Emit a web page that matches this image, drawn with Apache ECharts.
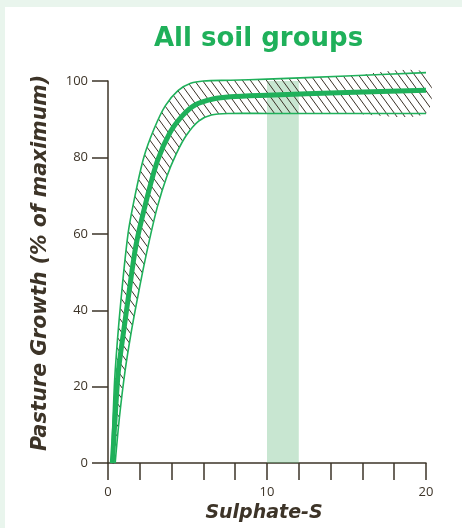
<!DOCTYPE html>
<html>
<head>
<meta charset="utf-8">
<script src="https://cdn.jsdelivr.net/npm/echarts@6/dist/echarts.min.js"></script>
<style>
html,body{margin:0;padding:0;background:#ffffff;}
#c{width:462px;height:528px;}
</style>
</head>
<body>
<div id="c"></div>
<script>
// ---- data ----
var titleText = 'All soil groups';
var xName = 'Sulphate-S';
var yName = 'Pasture Growth (% of maximum)';
var xTicks = [0, 2, 4, 6, 8, 10, 12, 14, 16, 18, 20];
var xLabels = [0, 10, 20];
var yTicks = [0, 20, 40, 60, 80, 100];
// main response curve [sulphate-S, % of max]
var mainCurve = [[0.27,0],[0.45,12],[0.65,24],[1.0,35],[1.3,44],[1.76,57],[2.4,68.5],[3.1,79],[3.9,86.5],[4.7,91],[5.5,93.8],[6.6,95.3],[7.7,95.9],[10,96.3],[15,97],[20,97.6]];
// upper bound of the hatched band
var upperCurve = [[0.22,0],[0.32,12],[0.45,24],[0.8,42],[1.26,60],[1.7,70],[2.25,80],[2.9,87.5],[3.6,93.5],[4.4,97.5],[5.2,99.4],[6,100],[7.7,100.2],[10,100.5],[15,101.3],[20,102.2]];
// lower bound of the hatched band
var lowerCurve = [[0.45,0],[0.72,12],[1.07,24],[1.45,34],[1.82,42.4],[2.2,50.5],[2.64,59],[3.1,67],[3.7,75],[4.3,81],[4.93,85.8],[5.7,89.5],[6.5,91.1],[7.65,91.5],[10,91.5],[15,91.5],[20,91.5]];
// shaded optimum range of sulphate-S
var optimumRange = [10, 12];
var optimumTop = 100;

// ---- styles ----
var green = '#1fb05a';
var axisColor = '#3d3428';
var font = '"Open Sans", "Noto Sans", sans-serif';
var nameFont = '"DejaVu Sans", "Open Sans", sans-serif';

// hatch pattern
var pat = document.createElement('canvas');
var pw = 8, ph = 11;
pat.width = pw; pat.height = ph;
var pc = pat.getContext('2d');
pc.strokeStyle = '#3a3026';
pc.lineWidth = 1;
for (var i = -1; i <= 1; i++) {
  for (var j = -1; j <= 1; j++) {
    pc.beginPath();
    pc.moveTo(i * pw, j * ph);
    pc.lineTo(i * pw + pw, j * ph + ph);
    pc.stroke();
  }
}

var chart = echarts.init(document.getElementById('c'), null, {renderer: 'canvas'});

function bandRender(params, api) {
  var up = upperCurve.map(function (p) { return api.coord(p); });
  var lo = lowerCurve.map(function (p) { return api.coord(p); });
  var poly = up.concat(lo.slice().reverse());
  return {
    type: 'group',
    children: [
      {type: 'polygon', shape: {points: poly, smooth: 0.3}, style: {fill: {image: pat, repeat: 'repeat'}, stroke: null}},
      {type: 'polyline', shape: {points: up, smooth: 0.3}, style: {fill: null, stroke: green, lineWidth: 1.6}},
      {type: 'polyline', shape: {points: lo, smooth: 0.3}, style: {fill: null, stroke: green, lineWidth: 1.6}}
    ]
  };
}

var option = {
  animation: false,
  backgroundColor: '#e9f5ed',
  graphic: [{
    type: 'rect', z: -10, silent: true,
    shape: {x: 5, y: 7, width: 600, height: 1000},
    style: {fill: '#ffffff'}
  }],
  title: {
    text: titleText,
    left: 149, top: 21,
    textStyle: {color: green, fontSize: 26, fontWeight: 'bold', fontFamily: nameFont}
  },
  grid: {left: 108, right: 36, top: 81, bottom: 56, containLabel: false},
  xAxis: {
    type: 'value', min: xTicks[0], max: xTicks[xTicks.length - 1], interval: xTicks[1] - xTicks[0],
    name: xName, nameLocation: 'middle', nameGap: 40,
    nameTextStyle: {color: axisColor, fontSize: 19, fontWeight: 'bold', fontStyle: 'italic', fontFamily: nameFont, padding: [0, 6, 0, 0]},
    axisLine: {show: true, lineStyle: {color: axisColor, width: 1.5}},
    axisTick: {show: true, inside: false, length: 17, lineStyle: {color: axisColor, width: 1.5}},
    axisLabel: {
      margin: 23, color: axisColor, fontSize: 13, fontFamily: font,
      formatter: function (v) { return xLabels.indexOf(v) >= 0 ? String(v) : ''; }
    },
    splitLine: {show: false}
  },
  yAxis: {
    type: 'value', min: yTicks[0], max: yTicks[yTicks.length - 1], interval: yTicks[1] - yTicks[0],
    name: yName, nameLocation: 'middle', nameGap: 57, nameRotate: 90,
    nameTextStyle: {color: axisColor, fontSize: 20.5, fontWeight: 'bold', fontStyle: 'italic', fontFamily: nameFont, padding: [0, 0, 0, 18]},
    axisLine: {show: true, lineStyle: {color: axisColor, width: 1.5}},
    axisTick: {show: true, inside: false, length: 16, lineStyle: {color: axisColor, width: 1.5}},
    axisLabel: {margin: 20, color: axisColor, fontSize: 13, fontFamily: font},
    splitLine: {show: false}
  },
  series: [
    {
      type: 'custom', name: 'band', z: 2, clip: false,
      data: [[0, 0]],
      renderItem: bandRender
    },
    {
      type: 'line', name: 'optimum', z: 3, data: [], silent: true,
      markArea: {
        silent: true,
        itemStyle: {color: 'rgba(98,184,124,0.35)'},
        data: [[{xAxis: optimumRange[0], yAxis: 0}, {xAxis: optimumRange[1], yAxis: optimumTop}]]
      }
    },
    {
      type: 'line', name: 'main', z: 4, clip: false,
      data: mainCurve, smooth: 0.3, showSymbol: false, symbol: 'none',
      lineStyle: {color: green, width: 5}
    }
  ]
};
chart.setOption(option);
</script>
</body>
</html>
